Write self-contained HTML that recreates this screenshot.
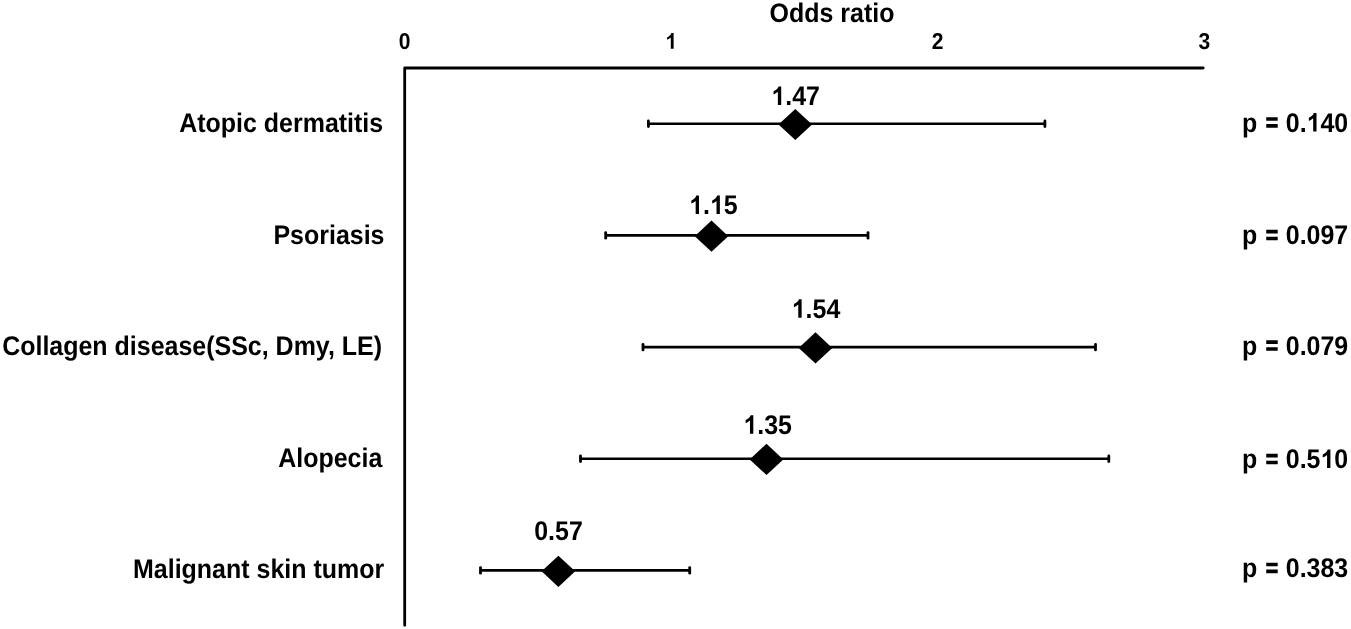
<!DOCTYPE html>
<html><head><meta charset="utf-8"><title>Odds ratio forest plot</title><style>
html,body{margin:0;padding:0;background:#fff;}
body{width:1351px;height:629px;overflow:hidden;}
svg{display:block;will-change:transform;}
text{text-rendering:geometricPrecision;font-family:"Liberation Sans",sans-serif;font-weight:bold;fill:#000;stroke:none;}
text .h{fill:transparent;stroke:none;}
.g1{fill:#000;stroke:none;}
</style></head><body>
<svg width="1351" height="629" viewBox="0 0 1351 629">
<rect width="1351" height="629" fill="#fff"/>
<text id="t0" transform="translate(832.00,21.70) scale(0.925,1)" font-size="27.00" text-anchor="middle">Odds ratio</text>
<text id="t1" transform="translate(404.50,48.80) scale(0.915,1)" font-size="23.00" text-anchor="middle">0</text>
<text id="t2" transform="translate(671.10,48.80) scale(0.915,1)" font-size="23.00" text-anchor="middle"><tspan class="h">1</tspan></text>
<text id="t3" transform="translate(937.70,48.80) scale(0.915,1)" font-size="23.00" text-anchor="middle">2</text>
<text id="t4" transform="translate(1204.30,48.80) scale(0.915,1)" font-size="23.00" text-anchor="middle">3</text>
<path d="M404.7,625.3 L404.7,68.0 L1203.2,68.0" fill="none" stroke="#000" stroke-width="2.8" stroke-linecap="round" stroke-linejoin="round"/>
<path d="M648.4,123.8 H1044.9" stroke="#000" stroke-width="2.6" fill="none"/>
<path d="M648.4,121.0 V126.6" stroke="#000" stroke-width="2.8" stroke-linecap="round" fill="none"/>
<path d="M1044.9,121.0 V126.6" stroke="#000" stroke-width="2.8" stroke-linecap="round" fill="none"/>
<path d="M795.3,108.9 L812.1,124.5 L795.3,140.1 L778.5,124.5 Z" fill="#000"/>
<text id="t5" transform="translate(795.60,105.00) scale(0.925,1)" font-size="27.00" text-anchor="middle"><tspan class="h">1</tspan>.47</text>
<text id="t6" transform="translate(383.20,131.60) scale(0.925,1)" font-size="27.00" text-anchor="end">Atopic dermatitis</text>
<text id="t7" transform="translate(1242.00,131.50) scale(0.925,1)" font-size="27.00" text-anchor="start">p <tspan class="h">=</tspan> 0.<tspan class="h">1</tspan>40</text>
<path d="M605.7,235.4 H868.0" stroke="#000" stroke-width="2.6" fill="none"/>
<path d="M605.7,232.6 V238.2" stroke="#000" stroke-width="2.8" stroke-linecap="round" fill="none"/>
<path d="M868.0,232.6 V238.2" stroke="#000" stroke-width="2.8" stroke-linecap="round" fill="none"/>
<path d="M711.5,220.6 L728.3,236.2 L711.5,251.8 L694.7,236.2 Z" fill="#000"/>
<text id="t8" transform="translate(713.40,214.10) scale(0.925,1)" font-size="27.00" text-anchor="middle"><tspan class="h">1</tspan>.<tspan class="h">1</tspan>5</text>
<text id="t9" transform="translate(384.50,243.60) scale(0.925,1)" font-size="27.00" text-anchor="end">Psoriasis</text>
<text id="t10" transform="translate(1242.00,244.10) scale(0.925,1)" font-size="27.00" text-anchor="start">p <tspan class="h">=</tspan> 0.097</text>
<path d="M643.0,347.1 H1095.5" stroke="#000" stroke-width="2.6" fill="none"/>
<path d="M643.0,344.3 V349.9" stroke="#000" stroke-width="2.8" stroke-linecap="round" fill="none"/>
<path d="M1095.5,344.3 V349.9" stroke="#000" stroke-width="2.8" stroke-linecap="round" fill="none"/>
<path d="M815.5,332.3 L832.3,347.9 L815.5,363.5 L798.7,347.9 Z" fill="#000"/>
<text id="t11" transform="translate(816.00,317.70) scale(0.925,1)" font-size="27.00" text-anchor="middle"><tspan class="h">1</tspan>.54</text>
<text id="t12" transform="translate(382.00,355.20) scale(0.925,1)" font-size="27.00" text-anchor="end">Collagen disease(SSc, Dmy, LE)</text>
<text id="t13" transform="translate(1242.00,354.60) scale(0.925,1)" font-size="27.00" text-anchor="start">p <tspan class="h">=</tspan> 0.079</text>
<path d="M580.5,458.7 H1108.8" stroke="#000" stroke-width="2.6" fill="none"/>
<path d="M580.5,455.9 V461.5" stroke="#000" stroke-width="2.8" stroke-linecap="round" fill="none"/>
<path d="M1108.8,455.9 V461.5" stroke="#000" stroke-width="2.8" stroke-linecap="round" fill="none"/>
<path d="M766.5,443.8 L783.3,459.4 L766.5,475.0 L749.7,459.4 Z" fill="#000"/>
<text id="t14" transform="translate(767.70,433.70) scale(0.925,1)" font-size="27.00" text-anchor="middle"><tspan class="h">1</tspan>.35</text>
<text id="t15" transform="translate(382.30,466.75) scale(0.925,1)" font-size="27.00" text-anchor="end">Alopecia</text>
<text id="t16" transform="translate(1242.00,468.10) scale(0.925,1)" font-size="27.00" text-anchor="start">p <tspan class="h">=</tspan> 0.5<tspan class="h">1</tspan>0</text>
<path d="M480.5,570.4 H689.7" stroke="#000" stroke-width="2.6" fill="none"/>
<path d="M480.5,567.6 V573.2" stroke="#000" stroke-width="2.8" stroke-linecap="round" fill="none"/>
<path d="M689.7,567.6 V573.2" stroke="#000" stroke-width="2.8" stroke-linecap="round" fill="none"/>
<path d="M558.4,555.7 L575.2,571.3 L558.4,586.9 L541.6,571.3 Z" fill="#000"/>
<text id="t17" transform="translate(558.50,539.80) scale(0.925,1)" font-size="27.00" text-anchor="middle">0.57</text>
<text id="t18" transform="translate(384.20,578.30) scale(0.925,1)" font-size="27.00" text-anchor="end">Malignant skin tumor</text>
<text id="t19" transform="translate(1242.00,577.00) scale(0.925,1)" font-size="27.00" text-anchor="start">p <tspan class="h">=</tspan> 0.383</text>
<path class="g1" transform="translate(671.10,48.80) scale(0.915,1) translate(-6.398,0.000) scale(0.01123,-0.01123)" d="M815 0L541 0L541 996C441 906 323 840 186 796L186 1036C258 1059 336 1104 421 1172C506 1239 564 1319 596 1409L815 1409Z"/>
<path class="g1" transform="translate(795.60,105.00) scale(0.925,1) translate(-26.289,0.000) scale(0.01318,-0.01318)" d="M815 0L541 0L541 996C441 906 323 840 186 796L186 1036C258 1059 336 1104 421 1172C506 1239 564 1319 596 1409L815 1409Z"/>
<path transform="translate(1242.00,131.50) scale(0.925,1) translate(24.000,0.000)" d="M2.2 -14.3H14.6V-10.7H2.2Z M2.2 -7.45H14.6V-3.75H2.2Z"/>
<path class="g1" transform="translate(1242.00,131.50) scale(0.925,1) translate(69.812,0.000) scale(0.01318,-0.01318)" d="M815 0L541 0L541 996C441 906 323 840 186 796L186 1036C258 1059 336 1104 421 1172C506 1239 564 1319 596 1409L815 1409Z"/>
<path class="g1" transform="translate(713.40,214.10) scale(0.925,1) translate(-26.305,0.000) scale(0.01318,-0.01318)" d="M815 0L541 0L541 996C441 906 323 840 186 796L186 1036C258 1059 336 1104 421 1172C506 1239 564 1319 596 1409L815 1409Z"/>
<path class="g1" transform="translate(713.40,214.10) scale(0.925,1) translate(-3.758,0.000) scale(0.01318,-0.01318)" d="M815 0L541 0L541 996C441 906 323 840 186 796L186 1036C258 1059 336 1104 421 1172C506 1239 564 1319 596 1409L815 1409Z"/>
<path transform="translate(1242.00,244.10) scale(0.925,1) translate(24.000,0.000)" d="M2.2 -14.3H14.6V-10.7H2.2Z M2.2 -7.45H14.6V-3.75H2.2Z"/>
<path class="g1" transform="translate(816.00,317.70) scale(0.925,1) translate(-26.289,0.000) scale(0.01318,-0.01318)" d="M815 0L541 0L541 996C441 906 323 840 186 796L186 1036C258 1059 336 1104 421 1172C506 1239 564 1319 596 1409L815 1409Z"/>
<path transform="translate(1242.00,354.60) scale(0.925,1) translate(24.000,0.000)" d="M2.2 -14.3H14.6V-10.7H2.2Z M2.2 -7.45H14.6V-3.75H2.2Z"/>
<path class="g1" transform="translate(767.70,433.70) scale(0.925,1) translate(-26.289,0.000) scale(0.01318,-0.01318)" d="M815 0L541 0L541 996C441 906 323 840 186 796L186 1036C258 1059 336 1104 421 1172C506 1239 564 1319 596 1409L815 1409Z"/>
<path transform="translate(1242.00,468.10) scale(0.925,1) translate(24.000,0.000)" d="M2.2 -14.3H14.6V-10.7H2.2Z M2.2 -7.45H14.6V-3.75H2.2Z"/>
<path class="g1" transform="translate(1242.00,468.10) scale(0.925,1) translate(84.828,0.000) scale(0.01318,-0.01318)" d="M815 0L541 0L541 996C441 906 323 840 186 796L186 1036C258 1059 336 1104 421 1172C506 1239 564 1319 596 1409L815 1409Z"/>
<path transform="translate(1242.00,577.00) scale(0.925,1) translate(24.000,0.000)" d="M2.2 -14.3H14.6V-10.7H2.2Z M2.2 -7.45H14.6V-3.75H2.2Z"/>
</svg></body></html>
